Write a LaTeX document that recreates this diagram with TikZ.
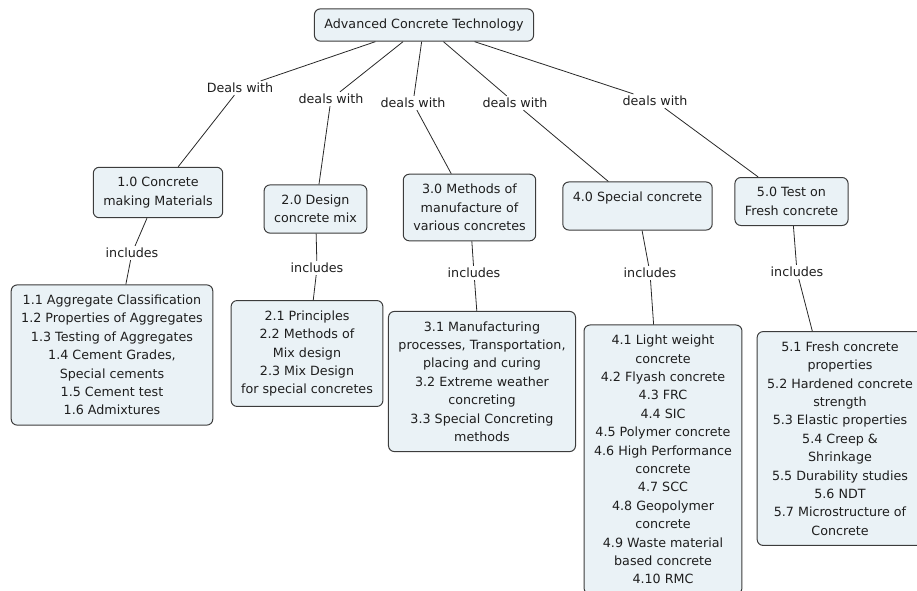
\documentclass[tikz,border=0pt]{standalone}
\usepackage{fontspec}
\setmainfont{DejaVu Sans}
\usepackage{xcolor}
\usepackage{tikz}

\definecolor{boxfill}{RGB}{234,242,246}
\definecolor{boxline}{RGB}{60,60,60}
\definecolor{linkcol}{RGB}{40,40,40}
\definecolor{txt}{RGB}{30,30,30}

\begin{document}
\begin{tikzpicture}[x=1pt,y=-1pt,
		concept/.style={draw=boxline, fill=boxfill, rounded corners=6pt, line width=1pt,
			align=center, inner xsep=10pt, inner ysep=10pt, text=txt,
			font=\fontsize{12.7}{18.4}\selectfont},
		linkword/.style={inner sep=2pt, text=txt, font=\fontsize{12.7}{18.4}\selectfont},
		link/.style={draw=linkcol, line width=0.8pt}]
			\useasboundingbox (0,0) rectangle (917,590);
			\clip (0,0) rectangle (917,590);
			
			\node[concept] (root) at (424,25) {Advanced Concrete Technology};
			
			\node[concept] (c1) at (158,192.5) {1.0 Concrete\\making Materials};
			\node[concept] (c2) at (315.5,209) {2.0 Design\\concrete mix};
			\node[concept] (c3) at (469.5,207.5) {3.0 Methods of\\manufacture of\\various concretes};
			\node[concept] (c4) at (637.5,206) {4.0 Special concrete\\~};
			\node[concept] (c5) at (791.5,201.5) {5.0 Test on\\Fresh concrete};
			
			\node[linkword] (l1) at (240,88) {Deals with};
			\node[linkword] (l2) at (331,99) {deals with};
			\node[linkword] (l3) at (413,103) {deals with};
			\node[linkword] (l4) at (515,103) {deals with};
			\node[linkword] (l5) at (655,101) {deals with};
			
			\node[linkword] (i1) at (132,253) {includes};
			\node[linkword] (i2) at (317,268) {includes};
			\node[linkword] (i3) at (474,273) {includes};
			\node[linkword] (i4) at (650,273) {includes};
			\node[linkword] (i5) at (797,272) {includes};
			
			\node[concept] (d1) at (112,355) {1.1 Aggregate Classification\\1.2 Properties of Aggregates\\1.3 Testing of Aggregates\\1.4 Cement Grades,\\Special cements\\1.5 Cement test\\1.6 Admixtures};
			\node[concept] (d2) at (307,353.5) {2.1 Principles\\2.2 Methods of\\Mix design\\2.3 Mix Design\\for special concretes};
			\node[concept] (d3) at (482,381.5) {3.1 Manufacturing\\processes, Transportation,\\placing and curing\\3.2 Extreme weather\\concreting\\3.3 Special Concreting\\methods};
			\node[concept] (d4) at (663,459.5) {4.1 Light weight\\concrete\\4.2 Flyash concrete\\4.3 FRC\\4.4 SIC\\4.5 Polymer concrete\\4.6 High Performance\\concrete\\4.7 SCC\\4.8 Geopolymer\\concrete\\4.9 Waste material\\based concrete\\4.10 RMC};
			\node[concept] (d5) at (840,438.5) {5.1 Fresh concrete\\properties\\5.2 Hardened concrete\\strength\\5.3 Elastic properties\\5.4 Creep \&\\Shrinkage\\5.5 Durability studies\\5.6 NDT\\5.7 Microstructure of\\Concrete};
			
			\foreach \k in {1,...,5} {
				\draw[link] (root) -- (l\k) -- (c\k);
				\draw[link] (c\k) -- (i\k) -- (d\k);
			}
		\end{tikzpicture}
\end{document}
